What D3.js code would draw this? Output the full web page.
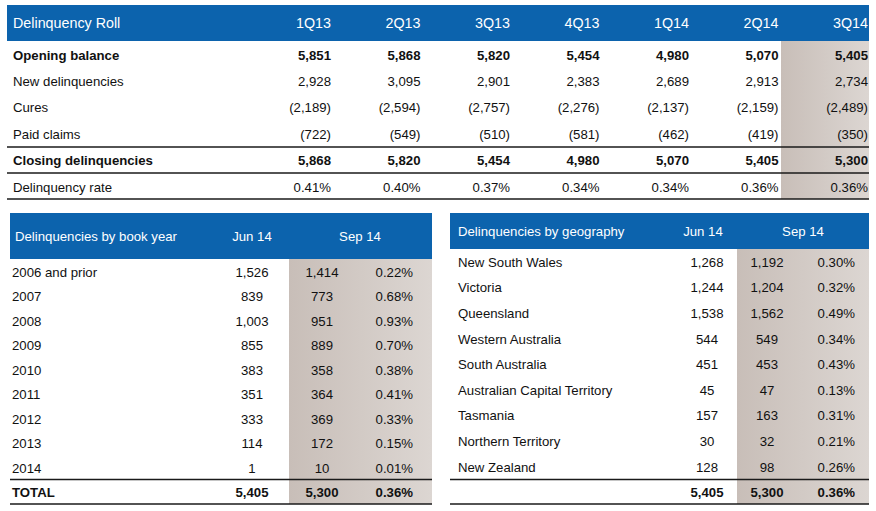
<!DOCTYPE html>
<html>
<head>
<meta charset="utf-8">
<script src="https://cdn.jsdelivr.net/npm/d3@7"></script>
<style>
  body { margin: 0; background: #fff; }
  svg { display: block; font-family: "Liberation Sans", Arial, sans-serif; font-size: 13.2px; }
</style>
</head>
<body>
<svg id="chart"></svg>
<script>
// ---- data ----
const quarters = ["1Q13", "2Q13", "3Q13", "4Q13", "1Q14", "2Q14", "3Q14"];
const rollRows = ["Opening balance", "New delinquencies", "Cures", "Paid claims", "Closing delinquencies", "Delinquency rate"];
const openingBalance = [5851, 5868, 5820, 5454, 4980, 5070, 5405];
const newDelinquencies = [2928, 3095, 2901, 2383, 2689, 2913, 2734];
const cures = [-2189, -2594, -2757, -2276, -2137, -2159, -2489];
const paidClaims = [-722, -549, -510, -581, -462, -419, -350];
const closingDelinquencies = [5868, 5820, 5454, 4980, 5070, 5405, 5300];
const delinquencyRate = [0.41, 0.40, 0.37, 0.34, 0.34, 0.36, 0.36];

const bookYears = ["2006 and prior", "2007", "2008", "2009", "2010", "2011", "2012", "2013", "2014"];
const bookJun14 = [1526, 839, 1003, 855, 383, 351, 333, 114, 1];
const bookSep14 = [1414, 773, 951, 889, 358, 364, 369, 172, 10];
const bookSep14Rate = [0.22, 0.68, 0.93, 0.70, 0.38, 0.41, 0.33, 0.15, 0.01];
const bookTotal = [5405, 5300, 0.36];

const regions = ["New South Wales", "Victoria", "Queensland", "Western Australia", "South Australia",
  "Australian Capital Territory", "Tasmania", "Northern Territory", "New Zealand"];
const geoJun14 = [1268, 1244, 1538, 544, 451, 45, 157, 30, 128];
const geoSep14 = [1192, 1204, 1562, 549, 453, 47, 163, 32, 98];
const geoSep14Rate = [0.30, 0.32, 0.49, 0.34, 0.43, 0.13, 0.31, 0.21, 0.26];
const geoTotal = [5405, 5300, 0.36];

// ---- setup ----
const width = 876, height = 511;
const blue = "#0c63ad";
const svg = d3.select("#chart").attr("width", width).attr("height", height);

const grad = svg.append("defs").append("linearGradient").attr("id", "shade");
grad.append("stop").attr("offset", "0%").attr("stop-color", "#c8beb8");
grad.append("stop").attr("offset", "100%").attr("stop-color", "#dcd6d2");

const num = v => v < 0 ? `(${d3.format(",")(-v)})` : d3.format(",")(v);
const pct = v => d3.format(".2f")(v) + "%";

function hline(g, x1, x2, y) {
  g.append("line").attr("x1", x1).attr("x2", x2).attr("y1", y).attr("y2", y)
    .attr("stroke", "#1a1a1a").attr("stroke-width", 1.4);
}

// ---- top table: delinquency roll ----
const rollTable = svg.append("g");
const x = d3.scalePoint().domain(quarters).range([331, 868]);
const yRoll = d3.scalePoint().domain(rollRows).range([55, 187]);

rollTable.append("rect").attr("x", 7).attr("y", 5).attr("width", 862).attr("height", 36).attr("fill", blue);
rollTable.append("rect").attr("x", 781).attr("y", 41).attr("width", 88).attr("height", 158).attr("fill", "url(#shade)");

rollTable.append("text").attr("x", 13).attr("y", 23).attr("dy", "0.35em").attr("fill", "#fff")
  .style("font-size", "14.3px").text("Delinquency Roll");
rollTable.selectAll("text.q").data(quarters).join("text").attr("class", "q")
  .attr("x", d => x(d)).attr("y", 23).attr("dy", "0.35em").attr("text-anchor", "end")
  .attr("fill", "#fff").style("font-size", "14.3px").text(d => d);

const rollData = [
  { label: rollRows[0], values: openingBalance, bold: true, fmt: num },
  { label: rollRows[1], values: newDelinquencies, fmt: num },
  { label: rollRows[2], values: cures, fmt: num },
  { label: rollRows[3], values: paidClaims, fmt: num },
  { label: rollRows[4], values: closingDelinquencies, bold: true, fmt: num },
  { label: rollRows[5], values: delinquencyRate, fmt: pct }
];

const rollG = rollTable.selectAll("g.row").data(rollData).join("g").attr("class", "row")
  .attr("transform", d => `translate(0,${yRoll(d.label)})`)
  .style("font-weight", d => d.bold ? "bold" : "normal");
rollG.append("text").attr("x", 13).attr("dy", "0.35em").attr("fill", "#111").text(d => d.label);
rollG.selectAll("text.v").data(d => d.values.map((v, i) => ({ q: quarters[i], s: d.fmt(v) })))
  .join("text").attr("class", "v").attr("x", d => x(d.q)).attr("dy", "0.35em")
  .attr("text-anchor", "end").attr("fill", "#111").text(d => d.s);

hline(rollTable, 7, 869, 147);
hline(rollTable, 7, 869, 173);
hline(rollTable, 7, 869, 199);

// ---- lower tables ----
function subTable(cfg) {
  const g = svg.append("g");
  const y = d3.scalePoint().domain(cfg.labels).range(cfg.yRange);
  g.append("rect").attr("x", cfg.x0).attr("y", 213).attr("width", cfg.x1 - cfg.x0)
    .attr("height", cfg.headBottom - 213).attr("fill", blue);
  g.append("rect").attr("x", cfg.shadeX).attr("y", cfg.headBottom).attr("width", cfg.x1 - cfg.shadeX)
    .attr("height", 504 - cfg.headBottom).attr("fill", "url(#shade)");

  const hy = (213 + cfg.headBottom) / 2;
  g.append("text").attr("x", cfg.titleX).attr("y", hy).attr("dy", "0.35em").attr("fill", "#fff").text(cfg.title);
  g.append("text").attr("x", cfg.hJun).attr("y", hy).attr("dy", "0.35em").attr("text-anchor", "middle").attr("fill", "#fff").text("Jun 14");
  g.append("text").attr("x", cfg.hSep).attr("y", hy).attr("dy", "0.35em").attr("text-anchor", "middle").attr("fill", "#fff").text("Sep 14");

  const rows = cfg.labels.map((l, i) => ({ label: l, jun: cfg.jun[i], sep: cfg.sep[i], rate: cfg.rate[i] }));
  const r = g.selectAll("g.row").data(rows).join("g").attr("class", "row")
    .attr("transform", d => `translate(0,${y(d.label)})`).attr("fill", "#111");
  r.append("text").attr("x", cfg.labelX).attr("dy", "0.35em").text(d => d.label);
  r.append("text").attr("x", cfg.cJun).attr("dy", "0.35em").attr("text-anchor", "middle").text(d => num(d.jun));
  r.append("text").attr("x", cfg.cSep).attr("dy", "0.35em").attr("text-anchor", "middle").text(d => num(d.sep));
  r.append("text").attr("x", cfg.rRate).attr("dy", "0.35em").attr("text-anchor", "end").text(d => pct(d.rate));

  const t = g.append("g").attr("transform", "translate(0,492)").style("font-weight", "bold").attr("fill", "#111");
  if (cfg.totalLabel) t.append("text").attr("x", cfg.labelX).attr("dy", "0.35em").text(cfg.totalLabel);
  t.append("text").attr("x", cfg.cJun).attr("dy", "0.35em").attr("text-anchor", "middle").text(num(cfg.total[0]));
  t.append("text").attr("x", cfg.cSep).attr("dy", "0.35em").attr("text-anchor", "middle").text(num(cfg.total[1]));
  t.append("text").attr("x", cfg.rRate).attr("dy", "0.35em").attr("text-anchor", "end").text(pct(cfg.total[2]));

  hline(g, cfg.x0, cfg.x1, 479.5);
  hline(g, cfg.x0, cfg.x1, 504);
}

subTable({
  title: "Delinquencies by book year", labels: bookYears, jun: bookJun14, sep: bookSep14, rate: bookSep14Rate,
  total: bookTotal, totalLabel: "TOTAL",
  x0: 10, x1: 432, headBottom: 259, shadeX: 289, yRange: [272, 468],
  labelX: 12, titleX: 15, cJun: 252, cSep: 322, rRate: 413, hJun: 252, hSep: 360
});

subTable({
  title: "Delinquencies by geography", labels: regions, jun: geoJun14, sep: geoSep14, rate: geoSep14Rate,
  total: geoTotal, totalLabel: null,
  x0: 450, x1: 869, headBottom: 249, shadeX: 737, yRange: [262, 467],
  labelX: 458, titleX: 458, cJun: 707, cSep: 767, rRate: 855, hJun: 703, hSep: 803
});
</script>
</body>
</html>
